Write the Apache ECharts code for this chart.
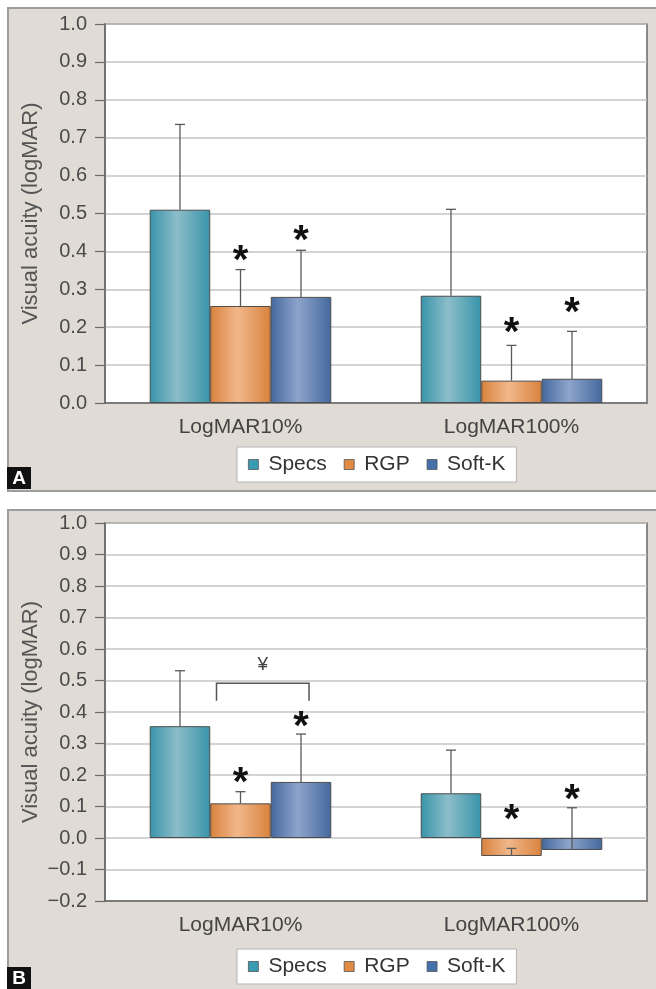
<!DOCTYPE html>
<html>
<head>
<meta charset="UTF-8">
<title>Visual acuity</title>
<style>
  html, body { margin: 0; padding: 0; background: #fff; }
  #main { width: 656px; height: 989px; }
</style>
</head>
<body>
<div id="main"></div>
<script src="https://cdn.jsdelivr.net/npm/echarts@6/dist/echarts.min.js"></script>
<script>
const categories = ['LogMAR10%', 'LogMAR100%'];
const groups = ['Specs', 'RGP', 'Soft-K'];

// panel A: means and top of error bars
const aSpecs = [0.51, 0.283];
const aRGP = [0.256, 0.059];
const aSoftK = [0.28, 0.064];
const aSpecsTop = [0.735, 0.511];
const aRGPTop = [0.352, 0.152];
const aSoftKTop = [0.403, 0.189];
// asterisk positions (value units)
const aStarRGP = [0.396, 0.206];
const aStarSoftK = [0.449, 0.259];

// panel B
const bSpecs = [0.355, 0.142];
const bRGP = [0.11, -0.057];
const bSoftK = [0.178, -0.038];
const bSpecsTop = [0.531, 0.279];
const bRGPTop = [0.147, -0.033];
const bSoftKTop = [0.33, 0.096];
const bStarRGP = [0.20, 0.083];
const bStarSoftK = [0.378, 0.147];
// bracket RGP vs Soft-K at LogMAR10%
const bBracket = { cat: 0, top: 0.491, leg: 0.436, mark: 0.549, label: '¥' };

const yTicksA = { min: 0, max: 1 };
const yTicksB = { min: -0.2, max: 1 };

const font = 'Liberation Sans, Arial, sans-serif';
const G = echarts.graphic.LinearGradient;
const fills = [
  new G(0, 0, 1, 0, [{ offset: 0, color: '#3894aa' }, { offset: 0.45, color: '#8cbdc9' }, { offset: 1, color: '#3894aa' }]),
  new G(0, 0, 1, 0, [{ offset: 0, color: '#d9823d' }, { offset: 0.45, color: '#f1b78a' }, { offset: 1, color: '#d9823d' }]),
  new G(0, 0, 1, 0, [{ offset: 0, color: '#44699f' }, { offset: 0.45, color: '#8ea4cb' }, { offset: 1, color: '#44699f' }])
];
const legendColors = ['#3a9cb3', '#e08a44', '#4670aa'];
const catGap = 0.33;

function fmt(v) {
  let s = Math.abs(v).toFixed(1);
  return v < -1e-9 ? '\u2212' + s : s;
}

// error bars + asterisks for one panel
function errSeries(gi, tops, stars) {
  let data = [];
  tops.forEach((arr, si) => {
    arr.forEach((t, ci) => {
      data.push([ci, si, t, stars[si] ? stars[si][ci] : null]);
    });
  });
  return {
    type: 'custom',
    xAxisIndex: gi, yAxisIndex: gi,
    silent: true, z: 5,
    data: data,
    renderItem: function (params, api) {
      let ci = api.value(0), si = api.value(1);
      let band = api.size([1, 0])[0];
      let bw = band * (1 - catGap) / 3;
      let src = gi === 0 ? [aSpecs, aRGP, aSoftK] : [bSpecs, bRGP, bSoftK];
      let mean = src[si][ci];
      let c = api.coord([ci, mean]);
      let x = c[0] + (si - 1) * bw;
      let yTop = api.coord([ci, api.value(2)])[1];
      let yBar = c[1];
      let children = [
        { type: 'line', shape: { x1: x, y1: yBar, x2: x, y2: yTop }, style: { stroke: '#5a5a5a', lineWidth: 1.3 } },
        { type: 'line', shape: { x1: x - 5, y1: yTop, x2: x + 5, y2: yTop }, style: { stroke: '#5a5a5a', lineWidth: 1.3 } }
      ];
      let st = data[params.dataIndex][3];
      if (st != null) {
        let ys = api.coord([ci, st])[1];
        children.push({
          type: 'text', x: x, y: ys + 9,
          style: { text: '*', fill: '#111', font: 'bold 40px ' + font, align: 'center', verticalAlign: 'middle' }
        });
      }
      return { type: 'group', children: children };
    }
  };
}

function barSeries(gi, vals) {
  return vals.map((v, si) => ({
    name: groups[si],
    type: 'bar',
    xAxisIndex: gi, yAxisIndex: gi,
    data: v,
    barGap: 0,
    barCategoryGap: '33%',
    itemStyle: { color: fills[si], borderColor: '#4d4d4d', borderWidth: 1 }
  }));
}

const bracketSeries = {
  type: 'custom',
  xAxisIndex: 1, yAxisIndex: 1,
  silent: true, z: 5,
  data: [[bBracket.cat, bBracket.top]],
  renderItem: function (params, api) {
    let c = api.coord([bBracket.cat, bBracket.top]);
    let band = api.size([1, 0])[0];
    let bw = band * (1 - catGap) / 3;
    let x1 = c[0] - 24, x2 = c[0] + bw + 8;
    let yt = c[1], yl = api.coord([bBracket.cat, bBracket.leg])[1];
    let ym = api.coord([bBracket.cat, bBracket.mark])[1];
    return {
      type: 'group',
      children: [
        { type: 'polyline', shape: { points: [[x1, yl], [x1, yt], [x2, yt], [x2, yl]] }, style: { stroke: '#555', lineWidth: 1.5, fill: null } },
        { type: 'text', x: (x1 + x2) / 2, y: ym, style: { text: bBracket.label, fill: '#444', font: '19px ' + font, align: 'center', verticalAlign: 'middle' } }
      ]
    };
  }
};

function yAxis(gi, r) {
  return {
    type: 'value', gridIndex: gi,
    min: r.min, max: r.max, interval: 0.1,
    name: 'Visual acuity (logMAR)',
    nameLocation: 'middle', nameRotate: 90, nameGap: 63,
    nameMoveOverlap: false,
    nameTextStyle: { fontFamily: font, fontSize: 22, color: '#555' },
    axisLine: { show: true, lineStyle: { color: '#6a6a6a', width: 1.5 } },
    axisTick: { show: true, length: 10, lineStyle: { color: '#6a6a6a', width: 1.2 } },
    axisLabel: { fontFamily: font, fontSize: 20, color: '#4a4a4a', margin: 18, formatter: fmt },
    splitLine: { lineStyle: { color: '#c4c4c4', width: 1.5 } }
  };
}

function xAxis(gi) {
  return {
    type: 'category', gridIndex: gi, data: categories,
    axisLine: { onZero: false, lineStyle: { color: '#6a6a6a', width: 1.5 } },
    axisTick: { show: false },
    axisLabel: { fontFamily: font, fontSize: 21, color: '#444', margin: 14 }
  };
}

function legend(top) {
  return {
    data: groups.map((g, i) => ({ name: g, itemStyle: { color: legendColors[i], borderColor: '#555', borderWidth: 0.8 } })),
    left: 237, top: top,
    backgroundColor: '#fff',
    borderColor: '#b5b5b5', borderWidth: 1, borderRadius: 0,
    padding: [7, 11, 7, 11],
    itemWidth: 10, itemHeight: 10, itemGap: 17,
    icon: 'rect',
    textStyle: { fontFamily: font, fontSize: 21, color: '#333', padding: [0, 0, 0, 5] },
    selectedMode: false
  };
}

function panelLetter(y, ch) {
  return {
    type: 'group', left: 7, top: y,
    children: [
      { type: 'rect', shape: { x: 0, y: 0, width: 24, height: 22 }, style: { fill: '#111' } },
      { type: 'text', x: 12, y: 12, style: { text: ch, fill: '#fff', font: 'bold 19px ' + font, align: 'center', verticalAlign: 'middle' } }
    ]
  };
}

var chart = echarts.init(document.getElementById('main'));
chart.setOption({
  animation: false,
  backgroundColor: '#fff',
  graphic: [
    { type: 'rect', left: 7, top: 7, z: -10, shape: { width: 660, height: 483 }, style: { fill: '#e0dbd4', stroke: '#9d9d9d', lineWidth: 2 } },
    { type: 'rect', left: 7, top: 509, z: -10, shape: { width: 660, height: 490 }, style: { fill: '#e0dbd4', stroke: '#9d9d9d', lineWidth: 2 } },
    panelLetter(467, 'A'),
    panelLetter(967, 'B')
  ],
  legend: [legend(447), legend(949)],
  grid: [
    { left: 105, top: 24, right: 9, height: 379, show: true, backgroundColor: '#fff', borderColor: '#6a6a6a', borderWidth: 1.5 },
    { left: 105, top: 523, right: 9, height: 378, show: true, backgroundColor: '#fff', borderColor: '#6a6a6a', borderWidth: 1.5 }
  ],
  xAxis: [xAxis(0), xAxis(1)],
  yAxis: [yAxis(0, yTicksA), yAxis(1, yTicksB)],
  series: [].concat(
    barSeries(0, [aSpecs, aRGP, aSoftK]),
    barSeries(1, [bSpecs, bRGP, bSoftK]),
    [errSeries(0, [aSpecsTop, aRGPTop, aSoftKTop], [null, aStarRGP, aStarSoftK]),
     errSeries(1, [bSpecsTop, bRGPTop, bSoftKTop], [null, bStarRGP, bStarSoftK]),
     bracketSeries]
  )
});
</script>
</body>
</html>
